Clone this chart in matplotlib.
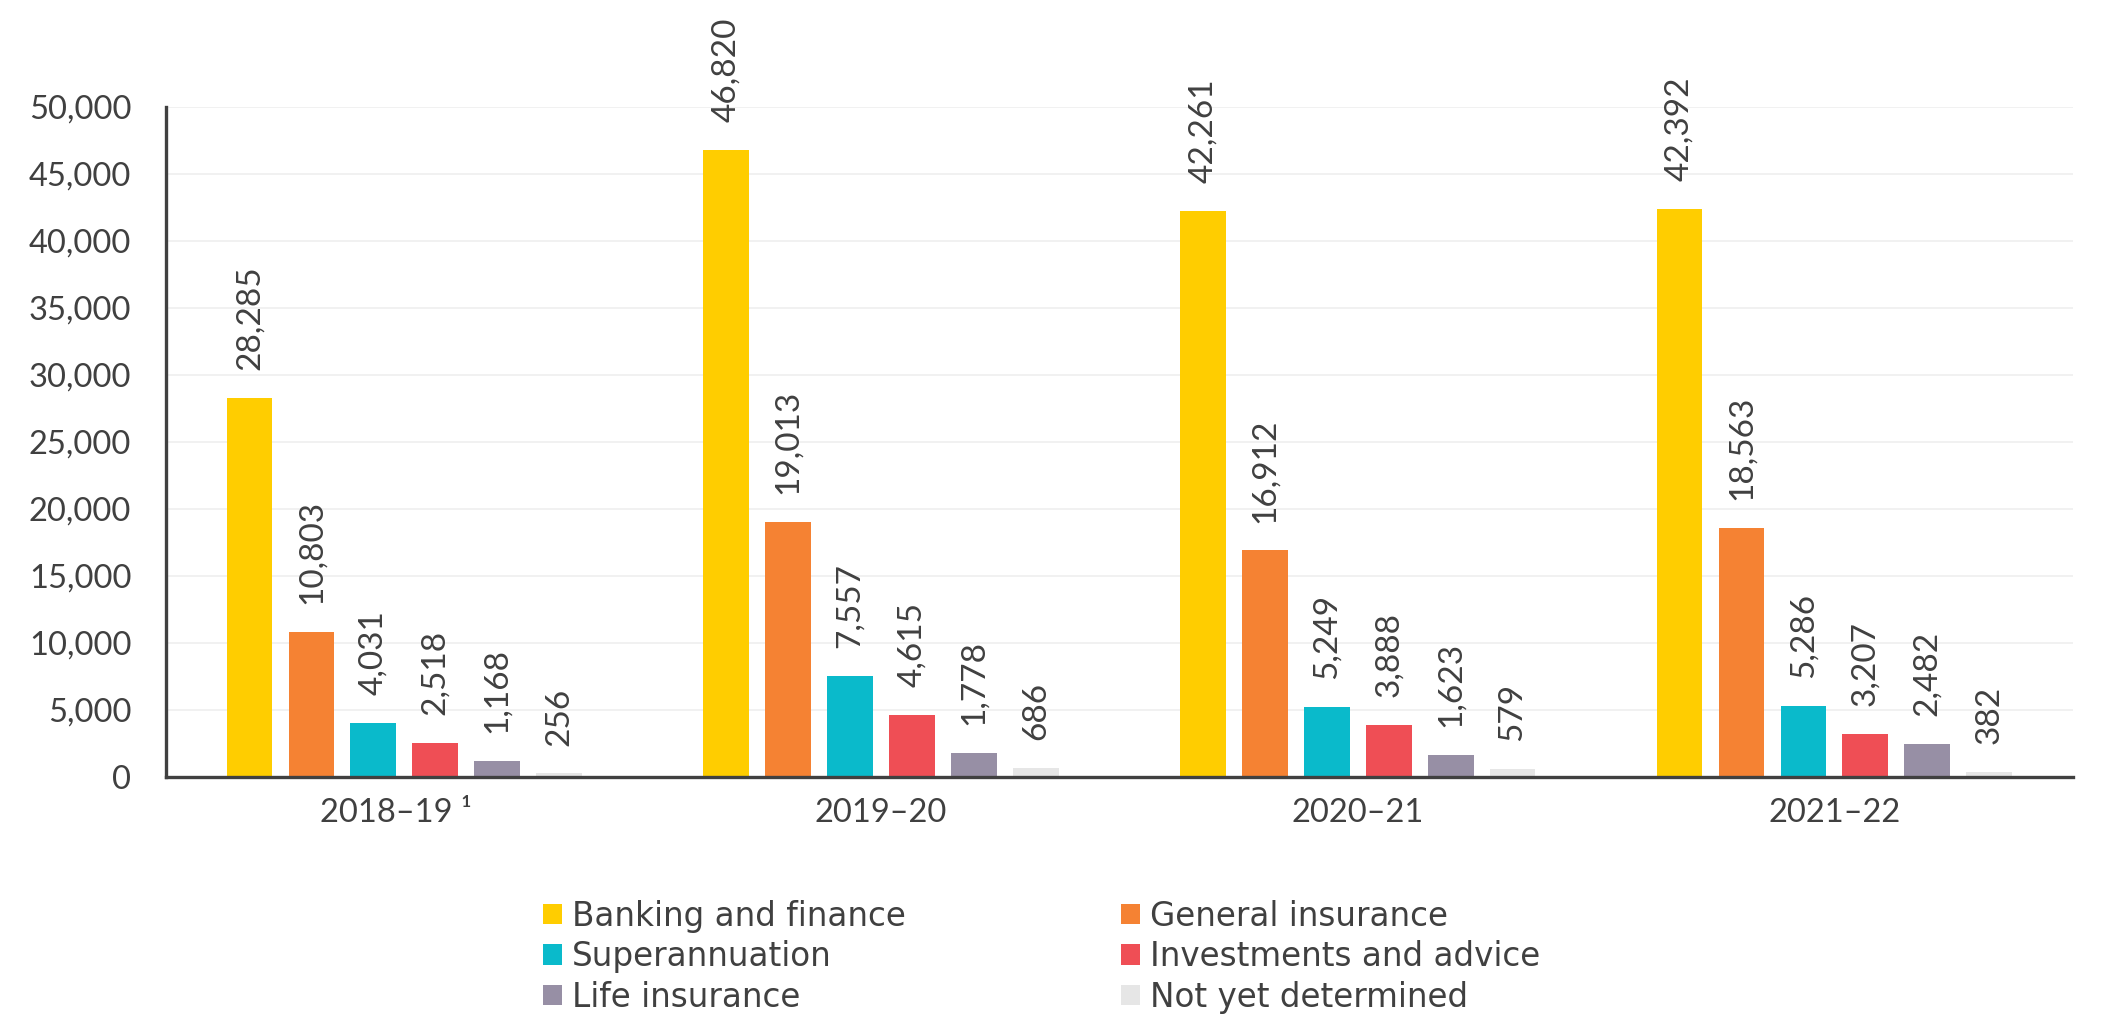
import matplotlib
matplotlib.use("Agg")
import matplotlib.pyplot as plt
import numpy as np
from matplotlib.ticker import FuncFormatter

years = ["2018\u201319 \u00b9  ", "2019\u201320", "2020\u201321", "2021\u201322"]
series = ["Banking and finance", "General insurance", "Superannuation",
          "Investments and advice", "Life insurance", "Not yet determined"]
banking = [28285, 46820, 42261, 42392]
general = [10803, 19013, 16912, 18563]
superann = [4031, 7557, 5249, 5286]
invest = [2518, 4615, 3888, 3207]
life = [1168, 1778, 1623, 2482]
notyet = [256, 686, 579, 382]
values = [banking, general, superann, invest, life, notyet]
colors = ["#FFCD00", "#F58233", "#0ABACB", "#EF4E55", "#978FA5", "#E6E6E6"]

TXT = "#404040"
NUMFONT = ["Lato", "DejaVu Sans"]
LEGFONT = ["DejaVu Sans"]

fig = plt.figure(figsize=(21.15, 10.29), dpi=100)
ax = fig.add_axes([0.0785, 0.245, 0.9015, 0.651])

x = np.arange(len(years))
step = 0.130
width = 0.096
handles = []
for i, (name, vals, c) in enumerate(zip(series, values, colors)):
    pos = x + (i - 2.5) * step
    bars = ax.bar(pos, vals, width=width, color=c, label=name, zorder=3)
    handles.append(bars)
    for b, v in zip(bars, vals):
        ax.annotate(f"{v:,}", (b.get_x() + b.get_width() / 2, v),
                    xytext=(0, 20), textcoords="offset points",
                    rotation=90, ha="center", va="bottom",
                    fontsize=24, color=TXT, family=NUMFONT)

ax.set_xlim(-0.5, 3.5)
ax.set_ylim(0, 50000)
ax.set_yticks(np.arange(0, 50001, 5000))
ax.yaxis.set_major_formatter(FuncFormatter(lambda v, p: f"{int(v):,}"))
ax.set_xticks(x)
ax.set_xticklabels(years)
ax.grid(axis="y", color="#F0F0F0", linewidth=1.3, zorder=0)
for s in ["top", "right"]:
    ax.spines[s].set_visible(False)
for s in ["left", "bottom"]:
    ax.spines[s].set_color(TXT)
    ax.spines[s].set_linewidth(2.4)
    ax.spines[s].set_zorder(4)
ax.tick_params(axis="both", length=0, colors=TXT)
ax.tick_params(axis="y", labelsize=23.5, pad=25)
ax.tick_params(axis="x", labelsize=23.5, pad=15)
for t in ax.get_yticklabels() + ax.get_xticklabels():
    t.set_family(NUMFONT)

order = [0, 2, 4, 1, 3, 5]
leg = fig.legend([handles[i] for i in order], [series[i] for i in order],
                 loc="upper left", bbox_to_anchor=(0.2567, 0.1258), ncol=2,
                 frameon=False, borderpad=0, borderaxespad=0,
                 handlelength=0.58, handleheight=0.58,
                 handletextpad=0.3, columnspacing=6.6, labelspacing=0.23,
                 prop={"family": LEGFONT, "size": 23.5})
for t in leg.get_texts():
    t.set_color(TXT)

fig.savefig("out.png", dpi=100, facecolor="white")
